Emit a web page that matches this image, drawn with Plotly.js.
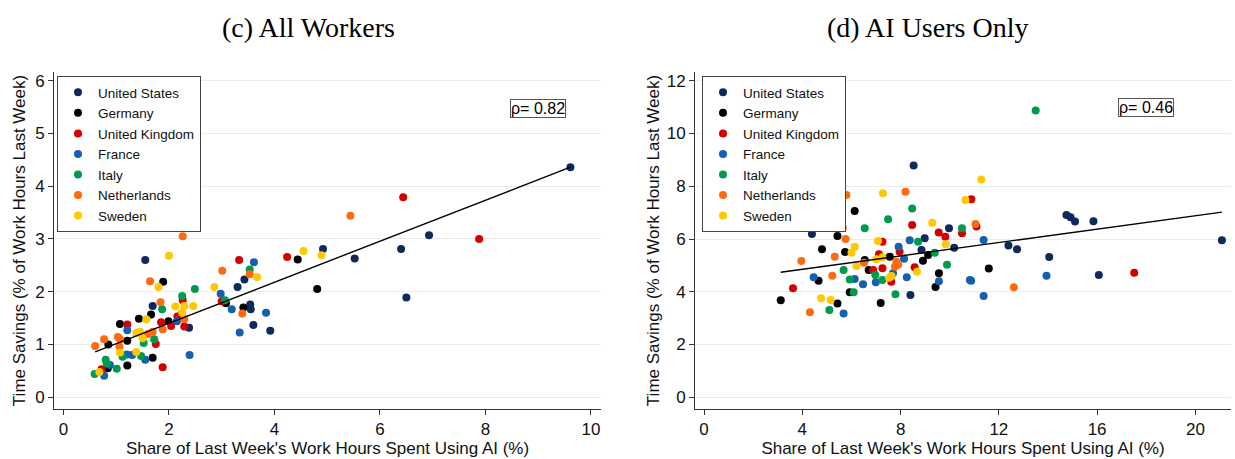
<!DOCTYPE html>
<html>
<head>
<meta charset="utf-8">
<script src="https://cdn.plot.ly/plotly-3.0.1.min.js"></script>
<style>html,body{margin:0;padding:0;background:#fff;}#chart{width:1235px;height:459px;}</style>
</head>
<body>
<div id="chart"></div>
<script>
// ---------- data ----------
const countries = ["United States", "Germany", "United Kingdom", "France", "Italy", "Netherlands", "Sweden"];

// Panel (c) All Workers
const allUS_x = [9.61, 6.93, 4.92, 5.52, 6.40, 6.50, 3.43, 3.30, 3.54, 3.55, 3.60, 3.92, 1.55, 1.69, 2.38];
const allUS_y = [4.36, 3.07, 2.81, 2.63, 2.81, 1.89, 2.23, 2.09, 1.76, 1.67, 1.37, 1.26, 2.60, 1.73, 1.32];
const allDE_x = [4.44, 4.81, 3.08, 3.41, 1.89, 1.66, 1.43, 1.07, 1.21, 0.85, 1.99, 1.69, 1.21, 0.84];
const allDE_y = [2.61, 2.05, 1.78, 1.70, 2.19, 1.57, 1.49, 1.39, 1.07, 1.00, 1.44, 0.75, 0.60, 0.55];
const allUK_x = [6.44, 7.88, 3.33, 4.24, 3.00, 2.26, 1.21, 1.85, 2.04, 2.16, 2.29, 1.75, 1.88, 0.72, 2.24];
const allUK_y = [3.79, 3.00, 2.60, 2.66, 1.82, 1.84, 1.38, 1.42, 1.35, 1.53, 1.34, 1.01, 0.57, 0.53, 1.58];
const allFR_x = [3.61, 2.98, 3.19, 3.84, 3.34, 1.21, 2.15, 1.20, 1.55, 2.39, 0.88, 0.77, 1.30];
const allFR_y = [2.56, 1.96, 1.67, 1.60, 1.23, 1.27, 1.44, 0.81, 0.71, 0.80, 0.61, 0.41, 0.80];
const allIT_x = [3.53, 3.06, 2.25, 2.49, 1.87, 1.52, 1.72, 1.12, 1.47, 0.80, 0.82, 1.01, 0.59];
const allIT_y = [2.42, 1.84, 1.92, 2.05, 1.67, 1.03, 1.10, 0.77, 0.78, 0.71, 0.64, 0.54, 0.44];
const allNL_x = [5.44, 3.53, 3.01, 3.39, 2.26, 1.64, 1.84, 1.69, 1.60, 2.29, 1.88, 0.60, 0.77, 1.03, 1.07, 1.06];
const allNL_y = [3.44, 2.33, 2.40, 1.59, 3.05, 2.20, 1.80, 1.24, 1.20, 1.48, 1.29, 0.97, 1.10, 1.14, 1.10, 0.96];
const allSE_x = [4.55, 4.89, 3.67, 2.86, 2.00, 1.80, 2.12, 2.29, 2.46, 2.25, 1.57, 1.38, 1.45, 1.50, 1.07, 1.38, 0.68];
const allSE_y = [2.77, 2.69, 2.28, 2.09, 2.68, 2.09, 1.72, 1.73, 1.73, 1.60, 1.48, 1.22, 1.24, 1.12, 0.85, 0.86, 0.48];
const fitAll_x = [0.60, 9.61];
const fitAll_y = [0.86, 4.36];
const rhoAll = "ρ= 0.82";

// Panel (d) AI Users Only
const aiUS_x = [8.53, 4.39, 9.97, 8.98, 8.85, 8.40, 10.18, 12.39, 12.74, 14.75, 14.92, 15.10, 15.85, 21.08, 14.05, 16.07];
const aiUS_y = [8.79, 6.19, 6.41, 6.03, 5.58, 3.88, 5.67, 5.75, 5.61, 6.91, 6.82, 6.66, 6.67, 5.95, 5.32, 4.64];
const aiDE_x = [6.13, 5.43, 4.80, 5.74, 6.54, 7.56, 9.12, 8.91, 9.56, 9.42, 7.19, 6.70, 5.93, 4.66, 3.12, 5.43, 11.59];
const aiDE_y = [7.06, 6.11, 5.61, 5.51, 5.20, 5.33, 5.39, 5.18, 4.70, 4.18, 3.57, 4.83, 3.98, 4.42, 3.68, 3.56, 4.88];
const aiUK_x = [8.47, 9.55, 9.82, 10.50, 7.26, 7.96, 8.57, 7.26, 6.88, 7.62, 3.62, 10.88, 11.09, 17.51, 7.12];
const aiUK_y = [6.53, 6.25, 6.09, 6.22, 5.90, 5.52, 4.93, 4.89, 4.83, 4.38, 4.13, 7.51, 6.47, 4.72, 5.42];
const aiFR_x = [8.37, 7.92, 8.14, 9.56, 6.99, 8.25, 6.13, 6.47, 4.46, 5.68, 10.82, 11.38, 10.87, 13.94, 11.38, 7.69];
const aiFR_y = [5.95, 5.71, 5.25, 4.40, 4.36, 4.55, 4.48, 4.29, 4.55, 3.18, 4.45, 5.96, 4.42, 4.61, 3.84, 4.70];
const aiIT_x = [8.47, 7.49, 6.54, 10.50, 8.71, 9.39, 9.89, 7.79, 5.68, 6.97, 7.26, 5.93, 6.09, 5.10, 13.50];
const aiIT_y = [7.16, 6.75, 6.41, 6.41, 5.90, 5.48, 5.02, 3.91, 4.83, 4.64, 4.45, 4.47, 3.98, 3.31, 10.87];
const aiNL_x = [5.14, 5.79, 8.20, 5.65, 5.76, 3.96, 5.32, 6.51, 7.83, 7.77, 7.90, 5.22, 4.31, 11.05, 12.61];
const aiNL_y = [7.58, 7.67, 7.79, 6.43, 6.00, 5.17, 5.33, 5.10, 5.14, 4.95, 5.02, 4.61, 3.22, 6.57, 4.17];
const aiSE_x = [7.28, 9.29, 10.64, 11.28, 7.08, 6.13, 6.00, 6.20, 7.01, 7.26, 8.67, 9.84, 4.76, 5.15, 7.53, 7.63];
const aiSE_y = [7.73, 6.62, 7.48, 8.26, 5.92, 5.71, 5.48, 4.98, 5.23, 5.31, 4.76, 5.80, 3.75, 3.69, 4.53, 4.60];
const fitAi_x = [3.12, 21.08];
const fitAi_y = [4.74, 7.02];
const rhoAi = "ρ= 0.46";

const xTicksAll = [0, 2, 4, 6, 8, 10];
const yTicksAll = [0, 1, 2, 3, 4, 5, 6];
const xTicksAi = [0, 4, 8, 12, 16, 20];
const yTicksAi = [0, 2, 4, 6, 8, 10, 12];

const titleAll = "(c) All Workers";
const titleAi = "(d) AI Users Only";
const xTitle = "Share of Last Week's Work Hours Spent Using AI (%)";
const yTitle = "Time Savings (% of Work Hours Last Week)";

// ---------- styles ----------
const colors = ["#0e2a5c", "#000000", "#d40000", "#1560ad", "#009a4e", "#ff6a10", "#ffc800"];
const allXs = [allUS_x, allDE_x, allUK_x, allFR_x, allIT_x, allNL_x, allSE_x];
const allYs = [allUS_y, allDE_y, allUK_y, allFR_y, allIT_y, allNL_y, allSE_y];
const aiXs = [aiUS_x, aiDE_x, aiUK_x, aiFR_x, aiIT_x, aiNL_x, aiSE_x];
const aiYs = [aiUS_y, aiDE_y, aiUK_y, aiFR_y, aiIT_y, aiNL_y, aiSE_y];

const traces = [];
countries.forEach((c, i) => {
  traces.push({
    type: "scatter", mode: "markers", name: c, x: allXs[i], y: allYs[i],
    xaxis: "x", yaxis: "y", legend: "legend",
    marker: {color: colors[i], size: 8, line: {width: 0}}
  });
});
traces.push({type: "scatter", mode: "lines", x: fitAll_x, y: fitAll_y, xaxis: "x", yaxis: "y",
  showlegend: false, line: {color: "#000", width: 1.4}});
countries.forEach((c, i) => {
  traces.push({
    type: "scatter", mode: "markers", name: c, x: aiXs[i], y: aiYs[i],
    xaxis: "x2", yaxis: "y2", legend: "legend2",
    marker: {color: colors[i], size: 8, line: {width: 0}}
  });
});
traces.push({type: "scatter", mode: "lines", x: fitAi_x, y: fitAi_y, xaxis: "x2", yaxis: "y2",
  showlegend: false, line: {color: "#000", width: 1.4}});

const W = 1235, H = 459;
const axCommon = {
  ticks: "outside", ticklen: 5, tickwidth: 1, tickcolor: "#333",
  showline: true, linecolor: "#333", linewidth: 1, zeroline: false,
  tickfont: {size: 17, color: "#111"}, fixedrange: true
};
const yDomain = [(H - 409) / H, (H - 72) / H];

const layout = {
  width: W, height: H,
  margin: {l: 0, r: 0, t: 0, b: 0},
  paper_bgcolor: "#fff", plot_bgcolor: "#fff",
  font: {family: "Liberation Sans, Arial, sans-serif", color: "#111"},
  xaxis: Object.assign({}, axCommon, {
    domain: [54 / W, 601 / W], range: [-0.18, 10.19], tickvals: xTicksAll,
    showgrid: false, anchor: "y",
    title: {text: xTitle, font: {size: 17, color: "#111"}, standoff: 2}
  }),
  yaxis: Object.assign({}, axCommon, {
    domain: yDomain, range: [-0.222, 6.164], tickvals: yTicksAll,
    showgrid: true, gridcolor: "#ebebeb", gridwidth: 1, anchor: "x",
    title: {text: yTitle, font: {size: 17, color: "#111"}, standoff: 5}
  }),
  xaxis2: Object.assign({}, axCommon, {
    domain: [695 / W, 1231 / W], range: [-0.37, 21.45], tickvals: xTicksAi,
    showgrid: false, anchor: "y2",
    title: {text: xTitle, font: {size: 17, color: "#111"}, standoff: 2}
  }),
  yaxis2: Object.assign({}, axCommon, {
    domain: yDomain, range: [-0.443, 12.33], tickvals: yTicksAi,
    showgrid: true, gridcolor: "#ebebeb", gridwidth: 1, anchor: "x2",
    title: {text: yTitle, font: {size: 17, color: "#111"}, standoff: 2}
  }),
  legend: {
    x: 57 / W, y: (H - 76) / H, xanchor: "left", yanchor: "top",
    bgcolor: "#fff", bordercolor: "#444", borderwidth: 1,
    font: {size: 13.5, color: "#111"}, itemwidth: 30, tracegroupgap: 0
  },
  legend2: {
    x: 702 / W, y: (H - 76) / H, xanchor: "left", yanchor: "top",
    bgcolor: "#fff", bordercolor: "#444", borderwidth: 1,
    font: {size: 13.5, color: "#111"}, itemwidth: 30, tracegroupgap: 0
  },
  annotations: [
    {text: titleAll, xref: "paper", yref: "paper", x: 308 / W, y: (H - 27) / H,
     xanchor: "center", yanchor: "middle", showarrow: false,
     font: {family: "Liberation Serif, Times New Roman, serif", size: 28, color: "#000"}},
    {text: titleAi, xref: "paper", yref: "paper", x: 927 / W, y: (H - 27) / H,
     xanchor: "center", yanchor: "middle", showarrow: false,
     font: {family: "Liberation Serif, Times New Roman, serif", size: 28, color: "#000"}},
    {text: rhoAll, xref: "x", yref: "y", x: 9, y: 5.48, showarrow: false,
     bordercolor: "#555", borderwidth: 1, borderpad: 0, bgcolor: "#fff",
     font: {size: 16, color: "#000"}},
    {text: rhoAi, xref: "x2", yref: "y2", x: 18, y: 10.97, showarrow: false,
     bordercolor: "#555", borderwidth: 1, borderpad: 0, bgcolor: "#fff",
     font: {size: 16, color: "#000"}}
  ]
};

Plotly.newPlot("chart", traces, layout, {staticPlot: true, displayModeBar: false});
</script>
</body>
</html>
